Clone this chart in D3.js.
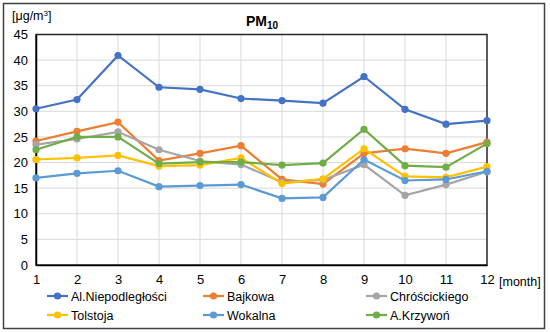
<!DOCTYPE html>
<html>
<head>
<meta charset="utf-8">
<script src="https://cdn.jsdelivr.net/npm/d3@7"></script>
<style>
  body { margin: 0; background: #fff; }
  text { font-family: "Liberation Sans", Arial, sans-serif; fill: #000; }
</style>
</head>
<body>
<div id="chart"></div>
<script>
// data
let months = [1, 2, 3, 4, 5, 6, 7, 8, 9, 10, 11, 12];
let yTicks = [0, 5, 10, 15, 20, 25, 30, 35, 40, 45];
let seriesNames = ["Al.Niepodległości", "Bajkowa", "Chróścickiego", "Tolstoja", "Wokalna", "A.Krzywoń"];
let niepodleglosci = [30.5, 32.3, 40.9, 34.7, 34.3, 32.5, 32.1, 31.6, 36.8, 30.4, 27.5, 28.2];
let bajkowa = [24.2, 26.1, 27.9, 20.4, 21.8, 23.3, 16.7, 15.8, 21.8, 22.7, 21.8, 24.0];
let chroscickiego = [23.5, 24.6, 26.0, 22.5, 20.3, 19.6, 16.2, 16.6, 19.6, 13.6, 15.7, 18.2];
let tolstoja = [20.6, 20.9, 21.4, 19.3, 19.5, 20.9, 15.9, 16.8, 22.7, 17.3, 17.1, 19.2];
let wokalna = [17.0, 17.9, 18.4, 15.3, 15.5, 15.7, 13.0, 13.2, 20.6, 16.5, 16.7, 18.3];
let krzywon = [22.5, 25.0, 25.0, 19.8, 20.1, 20.1, 19.5, 19.9, 26.5, 19.4, 19.1, 23.7];
let seriesValues = [niepodleglosci, bajkowa, chroscickiego, tolstoja, wokalna, krzywon];
let colors = ["#4472C4", "#ED7D31", "#A5A5A5", "#FFC000", "#5B9BD5", "#70AD47"];

let W = 550, H = 332;
let plot = {left: 36, right: 487, top: 34.5, bottom: 265};

let svg = d3.select("#chart").append("svg")
    .attr("width", W)
    .attr("height", H);

// outer frame
svg.append("rect")
    .attr("x", 3.5).attr("y", 3.5)
    .attr("width", 541).attr("height", 325)
    .attr("fill", "none")
    .attr("stroke", "#404040")
    .attr("stroke-width", 1.5);

let x = d3.scaleLinear().domain([1, 12]).range([plot.left, plot.right]);
let y = d3.scaleLinear().domain([0, 45]).range([plot.bottom, plot.top]);

// gridlines
svg.append("g")
    .selectAll("line.h")
    .data(yTicks.slice(1))
  .enter().append("line")
    .attr("x1", plot.left).attr("x2", plot.right)
    .attr("y1", d => y(d)).attr("y2", d => y(d))
    .attr("stroke", "#d9d9d9").attr("stroke-width", 1);

svg.append("g")
    .selectAll("line.v")
    .data(months.slice(1, -1))
  .enter().append("line")
    .attr("y1", plot.top).attr("y2", plot.bottom)
    .attr("x1", d => x(d)).attr("x2", d => x(d))
    .attr("stroke", "#d9d9d9").attr("stroke-width", 1);

// plot border
svg.append("rect")
    .attr("x", plot.left).attr("y", plot.top)
    .attr("width", plot.right - plot.left).attr("height", plot.bottom - plot.top)
    .attr("fill", "none")
    .attr("stroke", "#262626")
    .attr("stroke-width", 1.5);

// axes
let yAxis = svg.append("g")
    .attr("transform", "translate(" + plot.left + ",0)")
    .call(d3.axisLeft(y).tickValues(yTicks).tickSize(0).tickPadding(8));
let xAxis = svg.append("g")
    .attr("transform", "translate(0," + plot.bottom + ")")
    .call(d3.axisBottom(x).tickValues(months).tickSize(0).tickPadding(10));
[yAxis, xAxis].forEach(a => {
  a.select(".domain").attr("stroke", "#000").attr("stroke-width", 1.5);
  a.selectAll("text").style("font-size", "13px").attr("fill", "#000")
    .style("font-family", "'Liberation Sans', Arial, sans-serif");
});

// titles
let title = svg.append("text")
    .attr("x", 262).attr("y", 26)
    .attr("text-anchor", "middle")
    .style("font-size", "14px").style("font-weight", "bold");
title.append("tspan").text("PM");
title.append("tspan").attr("dy", 3).style("font-size", "10px").text("10");

let unit = svg.append("text")
    .attr("x", 12).attr("y", 20)
    .style("font-size", "12.5px");
unit.append("tspan").text("[μg/m");
unit.append("tspan").attr("dy", -4).style("font-size", "8px").text("3");
unit.append("tspan").attr("dy", 4).text("]");

svg.append("text")
    .attr("x", 499).attr("y", 286)
    .style("font-size", "12.5px")
    .text("[month]");

// series
let line = d3.line()
    .x((d, i) => x(months[i]))
    .y(d => y(d));

seriesValues.forEach((vals, k) => {
  let g = svg.append("g");
  g.append("path")
      .datum(vals)
      .attr("d", line)
      .attr("fill", "none")
      .attr("stroke", colors[k])
      .attr("stroke-width", 2.2);
  g.selectAll("circle")
      .data(vals)
    .enter().append("circle")
      .attr("cx", (d, i) => x(months[i]))
      .attr("cy", d => y(d))
      .attr("r", 3.6)
      .attr("fill", colors[k]);
});

// legend
let legX = [47, 203, 366];
let legY = [296, 315];
seriesNames.forEach((name, k) => {
  let lx = legX[k % 3], ly = legY[Math.floor(k / 3)];
  let g = svg.append("g").attr("transform", "translate(" + lx + "," + ly + ")");
  g.append("line")
      .attr("x1", 0).attr("x2", 21)
      .attr("stroke", colors[k]).attr("stroke-width", 2.2);
  g.append("circle").attr("cx", 10.5).attr("r", 3.6).attr("fill", colors[k]);
  g.append("text")
      .attr("x", 24).attr("y", 4.5)
      .style("font-size", "12.5px")
      .text(name);
});
</script>
</body>
</html>
